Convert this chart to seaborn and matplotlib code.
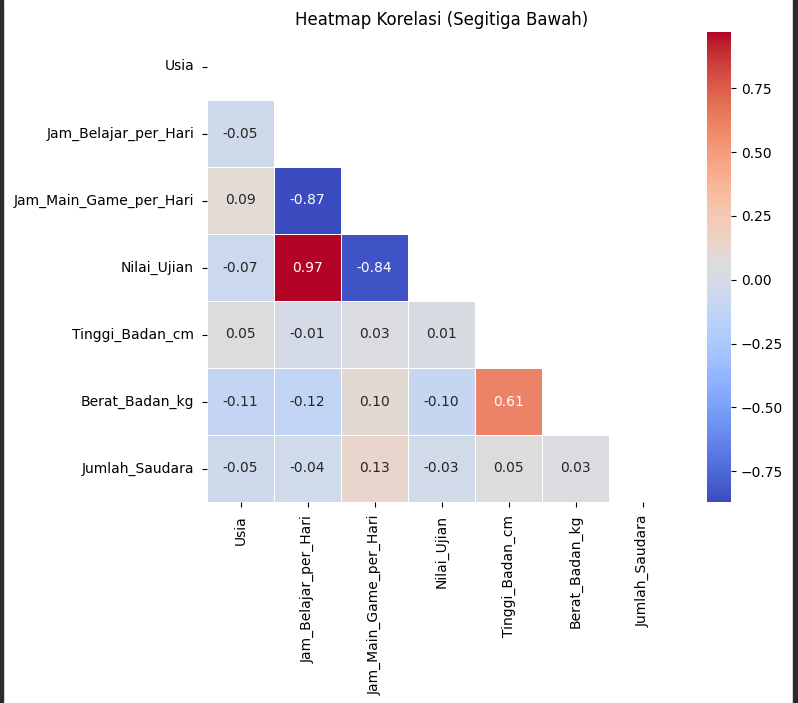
import numpy as np
import pandas as pd
import matplotlib
matplotlib.use('Agg')
import matplotlib.pyplot as plt
import seaborn as sns
from matplotlib.patches import Rectangle

columns = ["Usia", "Jam_Belajar_per_Hari", "Jam_Main_Game_per_Hari", "Nilai_Ujian",
           "Tinggi_Badan_cm", "Berat_Badan_kg", "Jumlah_Saudara"]

# lower-triangle correlation values, row by row
row_jam_belajar = [-0.05]
row_jam_main = [0.09, -0.87]
row_nilai = [-0.07, 0.97, -0.84]
row_tinggi = [0.05, -0.01, 0.03, 0.01]
row_berat = [-0.11, -0.12, 0.10, -0.10, 0.61]
row_jumlah = [-0.05, -0.04, 0.13, -0.03, 0.05, 0.03]

lower_rows = [[], row_jam_belajar, row_jam_main, row_nilai, row_tinggi, row_berat, row_jumlah]

n = len(columns)
mat = np.eye(n)
for i, vals in enumerate(lower_rows):
    for j, v in enumerate(vals):
        mat[i, j] = v
        mat[j, i] = v
corr = pd.DataFrame(mat, index=columns, columns=columns)

mask = np.triu(np.ones_like(corr, dtype=bool))

W, H = 798, 703
fig = plt.figure(figsize=(W / 100, H / 100), dpi=100)
ax = fig.add_axes([207 / W, 1 - 502 / H, 469 / W, 469 / H])
cax = fig.add_axes([707 / W, 1 - 502 / H, 24 / W, 470 / H])

sns.heatmap(corr, mask=mask, annot=True, fmt=".2f", cmap="coolwarm",
            linewidths=0.5, ax=ax, cbar_ax=cax)
ax.set_title("Heatmap Korelasi (Segitiga Bawah)", fontsize=12)
ax.tick_params(axis="both", pad=5.8)

# screenshot frame edges
fig.add_artist(Rectangle((0, 0), 3 / W, 1, transform=fig.transFigure, color="#2b2b2b"))
fig.add_artist(Rectangle((793 / W, 0), 5 / W, 1, transform=fig.transFigure, color="#2b2b2b"))

fig.savefig("out.png", dpi=100)
plt.close(fig)
